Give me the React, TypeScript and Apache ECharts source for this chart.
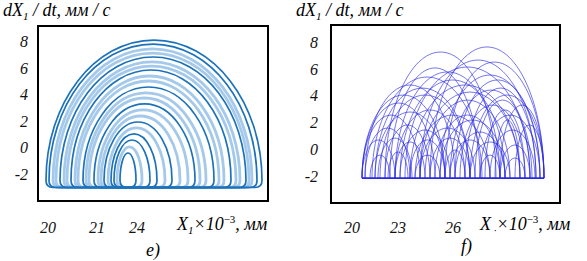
import React, { useEffect, useRef } from 'react';
import * as echarts from 'echarts';

// ---------- tick labels ----------
const yTickValues = [-2, 0, 2, 4, 6, 8];
const xTickTextE = ['20', '21', '24'];
const xTickPosE = [20.0, 22.45, 24.45];
const xTickTextF = ['20', '23', '26'];
const xTickPosF = [20.05, 22.35, 25.1];

// ---------- panel e): nested closed loops ----------
const baseE = -2.98;
const loopLeftE = [19.9, 20.05, 20.25, 20.4, 20.6, 20.8, 20.95, 21.15, 21.35, 21.5, 21.75, 21.9, 22.05, 22.3, 22.5, 22.65, 22.8, 23.0, 23.15, 23.3, 23.45, 23.6];
const loopRightE = [30.7, 30.45, 30.2, 30.05, 29.9, 29.6, 29.4, 29.15, 28.8, 28.55, 28.3, 27.9, 27.6, 27.35, 27.0, 26.6, 26.2, 25.85, 25.45, 25.1, 24.7, 24.4];
const loopPeakE = [8.14, 7.84, 7.47, 7.16, 6.86, 6.49, 6.18, 5.88, 5.43, 5.05, 4.6, 4.15, 3.77, 3.32, 2.87, 2.41, 1.96, 1.51, 1.06, 0.6, 0.08, -0.38];
const loopDarkE = [1, 1, 0, 0, 1, 0, 0, 1, 0, 0, 1, 0, 0, 1, 0, 0, 1, 0, 1, 1, 0, 1];

// ---------- panel f): open arcs on a common base ----------
const baseF = -2.14;
const arcLeftF = [23.95, 21.7, 21.05, 23.45, 22.7, 22.2, 24.45, 20.7, 22.95, 24.95, 20.55, 21.45, 23.7, 25.45, 25.95, 20.55, 21.2, 22.2, 23.2, 24.45, 26.45, 20.7, 21.7, 22.45, 23.45, 25.2, 26.95, 20.55, 21.35, 22.2, 22.95, 23.95, 25.95, 27.45, 20.95, 21.85, 23.2, 24.7, 26.45, 27.7, 28.2, 27.45, 24.7, 25.2, 25.7, 26.2, 26.7, 27.2, 21.2, 21.95, 22.45, 20.55, 23.45, 24.2, 24.95];
const arcRightF = [29.65, 27.25, 26.55, 29.25, 28.95, 27.45, 29.45, 25.2, 28.45, 29.05, 24.2, 25.95, 27.95, 28.7, 29.65, 23.45, 24.7, 25.7, 26.95, 27.7, 29.45, 22.95, 23.95, 24.95, 26.2, 27.7, 29.2, 22.2, 23.05, 23.7, 24.7, 25.95, 27.95, 28.95, 21.95, 22.85, 24.45, 25.7, 27.45, 28.7, 29.65, 29.65, 29.65, 29.45, 29.25, 28.95, 28.7, 28.45, 25.95, 26.45, 27.7, 24.7, 28.45, 27.45, 26.95];
const arcPeakF = [7.66, 7.28, 5.41, 6.68, 6.16, 5.79, 5.56, 4.82, 4.82, 4.44, 3.47, 4.07, 3.69, 3.32, 4.07, 2.57, 2.8, 2.95, 2.57, 2.2, 2.57, 1.6, 1.83, 1.45, 1.6, 1.3, 1.45, 0.71, 0.85, 0.56, 0.71, 0.85, 0.56, 0.33, -0.42, -0.19, -0.42, -0.04, -0.42, -0.64, 1.83, 3.32, 6.53, 5.19, 4.59, 3.69, 2.95, 2.2, 4.59, 6.09, 5.19, 4.07, 4.29, 2.57, 0.71];

const FONT = 'Times New Roman, Liberation Serif, DejaVu Serif, serif';

function halfEllipse(pl: number, pr: number, cy: number, top: number) {
  const cx = (pl + pr) / 2;
  const a = (pr - pl) / 2;
  const b = cy - top;
  const k = 0.5523;
  return `M${pl} ${cy}C${pl} ${cy - k * b} ${cx - k * a} ${top} ${cx} ${top}C${cx + k * a} ${top} ${pr} ${cy - k * b} ${pr} ${cy}`;
}

function nearestLabel(v: number, pos: number[], text: string[]) {
  let best = 0;
  for (let i = 1; i < pos.length; i++) if (Math.abs(pos[i] - v) < Math.abs(pos[best] - v)) best = i;
  return Math.abs(pos[best] - v) < 0.01 ? text[best] : '';
}

function loopSeries(dark: number, stroke: string, lineWidth: number) {
  const data: number[][] = [];
  loopLeftE.forEach((l, i) => {
    if (loopDarkE[i] === dark) data.push([l, loopRightE[i], loopPeakE[i]]);
  });
  return {
    type: 'custom',
    xAxisIndex: 0,
    yAxisIndex: 0,
    data,
    renderItem: (_p: any, api: any) => {
      const xl = api.value(0);
      const xr = api.value(1);
      const pL = api.coord([xl, baseE]);
      const pR = api.coord([xr, baseE]);
      const pT = api.coord([(xl + xr) / 2, api.value(2)]);
      const r = 7;
      const cy = pL[1] - r;
      let d = halfEllipse(pL[0], pR[0], cy, pT[1]);
      d += `Q${pR[0]} ${pL[1]} ${pR[0] - r} ${pL[1]}L${pL[0] + r} ${pL[1]}Q${pL[0]} ${pL[1]} ${pL[0]} ${cy}Z`;
      return { type: 'path', shape: { pathData: d }, style: { stroke, fill: 'none', lineWidth } };
    },
  };
}

const richText = {
  i: { fontFamily: FONT, fontStyle: 'italic', fontSize: 18, lineHeight: 22, color: '#111' },
  sub: { fontFamily: FONT, fontStyle: 'italic', fontSize: 11, lineHeight: 12, verticalAlign: 'bottom', color: '#111' },
  sup: { fontFamily: FONT, fontSize: 11, lineHeight: 12, verticalAlign: 'top', color: '#111' },
};

export default function App() {
  const ref = useRef<HTMLDivElement>(null);
  useEffect(() => {
    if (!ref.current) return;
    const chart = echarts.init(ref.current, undefined, { renderer: 'svg' });

    const yAxisBase = (gridIndex: number, min: number, max: number, margin: number) => ({
      type: 'value',
      gridIndex,
      min,
      max,
      axisLine: { show: false },
      axisTick: { show: false },
      splitLine: { show: false },
      axisLabel: {
        customValues: yTickValues,
        margin,
        fontFamily: FONT,
        fontStyle: 'italic',
        fontSize: 16,
        color: '#111',
        formatter: (v: number) => String(v),
      },
    });
    const xAxisBase = (gridIndex: number, min: number, max: number, pos: number[], text: string[], margin: number) => ({
      type: 'value',
      gridIndex,
      min,
      max,
      axisLine: { show: false },
      axisTick: { show: false },
      splitLine: { show: false },
      axisLabel: {
        customValues: pos,
        margin,
        fontFamily: FONT,
        fontStyle: 'italic',
        fontSize: 16,
        color: '#111',
        formatter: (v: number) => nearestLabel(v, pos, text),
      },
    });

    const minF = Math.min(...arcLeftF);
    const maxF = Math.max(...arcRightF);

    chart.setOption({
      animation: false,
      backgroundColor: '#fff',
      textStyle: { fontFamily: FONT },
      grid: [
        { left: 38, top: 26, width: 230, height: 175, show: true, borderColor: '#000', borderWidth: 2, backgroundColor: 'transparent' },
        { left: 331, top: 25, width: 229, height: 178, show: true, borderColor: '#000', borderWidth: 2, backgroundColor: 'transparent' },
      ],
      xAxis: [
        xAxisBase(0, 19.5, 31.0, xTickPosE, xTickTextE, 18),
        xAxisBase(1, 19.0, 30.45, xTickPosF, xTickTextF, 16),
      ],
      yAxis: [yAxisBase(0, -4.0, 9.2, 10), yAxisBase(1, -4.0, 9.3, 13)],
      series: [
        loopSeries(0, 'rgba(125,178,226,0.7)', 2.8),
        loopSeries(1, '#1c72ba', 1.7),
        {
          type: 'custom',
          xAxisIndex: 1,
          yAxisIndex: 1,
          data: arcLeftF.map((l, i) => [l, arcRightF[i], arcPeakF[i]]),
          renderItem: (_p: any, api: any) => {
            const xl = api.value(0);
            const xr = api.value(1);
            const pL = api.coord([xl, baseF]);
            const pR = api.coord([xr, baseF]);
            const pT = api.coord([(xl + xr) / 2, api.value(2)]);
            return {
              type: 'path',
              shape: { pathData: halfEllipse(pL[0], pR[0], pL[1], pT[1]) },
              style: { stroke: 'rgba(40,40,230,0.8)', fill: 'none', lineWidth: 0.8 },
            };
          },
        },
        {
          type: 'line',
          xAxisIndex: 1,
          yAxisIndex: 1,
          symbol: 'none',
          data: [[minF, baseF], [maxF, baseF]],
          lineStyle: { color: '#2828e0', width: 1.6 },
        },
      ],
      graphic: [
        { type: 'text', left: 3, top: 1, style: { text: '{i|dX}{sub|1}{i| / dt, мм / с}', rich: richText } },
        { type: 'text', left: 296, top: 1, style: { text: '{i|dX}{sub|1}{i| / dt, мм / с}', rich: richText } },
        { type: 'text', left: 177, top: 213, style: { text: '{i|X}{sub|1}{i|×10}{sup|−3}{i|, мм}', rich: richText } },
        { type: 'text', left: 480, top: 213, style: { text: '{i|X}{sub| ·}{i|×10}{sup|−3}{i|, мм}', rich: richText } },
        { type: 'text', left: 146, top: 241, style: { text: '{i|e)}', rich: richText } },
        { type: 'text', left: 461, top: 237, style: { text: '{i|f)}', rich: richText } },
      ],
    });
    return () => chart.dispose();
  }, []);
  return <div ref={ref} style={{ position: 'fixed', left: 0, top: 0, width: 587, height: 261 }} />;
}
